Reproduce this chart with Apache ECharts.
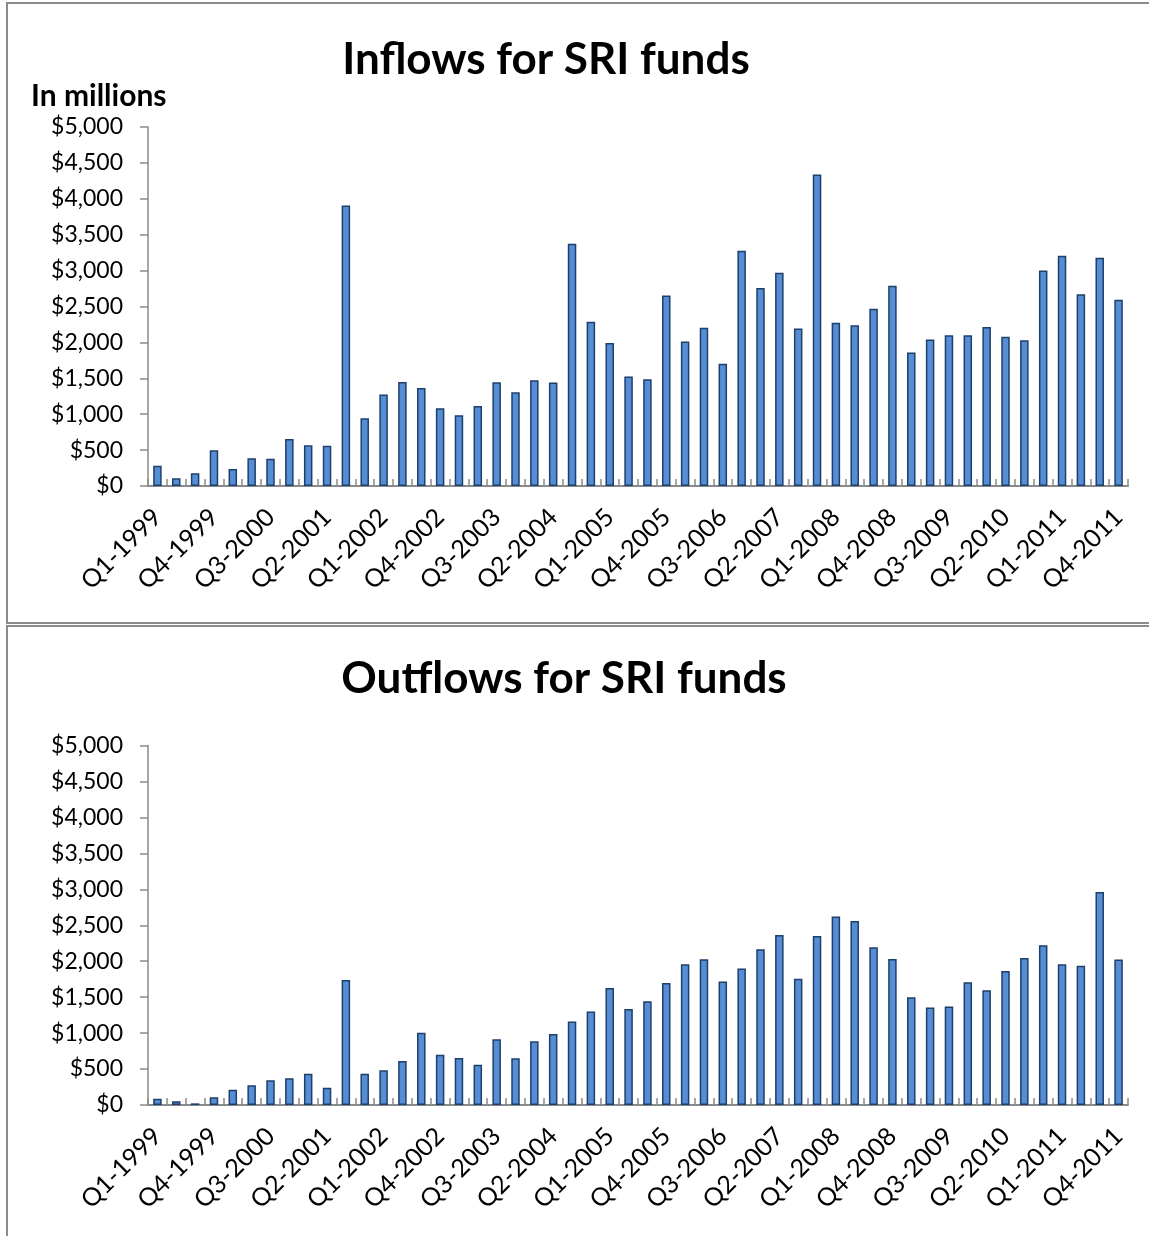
<!DOCTYPE html>
<html>
<head>
<meta charset="utf-8">
<script src="https://cdn.jsdelivr.net/npm/echarts@6/dist/echarts.min.js"></script>
<style>
html,body{margin:0;padding:0;background:#fff;}
#c{width:1149px;height:1236px;}
</style>
</head>
<body>
<div id="c"></div>
<script>
var categories = ["Q1-1999","Q2-1999","Q3-1999","Q4-1999","Q1-2000","Q2-2000","Q3-2000","Q4-2000",
"Q1-2001","Q2-2001","Q3-2001","Q4-2001","Q1-2002","Q2-2002","Q3-2002","Q4-2002",
"Q1-2003","Q2-2003","Q3-2003","Q4-2003","Q1-2004","Q2-2004","Q3-2004","Q4-2004",
"Q1-2005","Q2-2005","Q3-2005","Q4-2005","Q1-2006","Q2-2006","Q3-2006","Q4-2006",
"Q1-2007","Q2-2007","Q3-2007","Q4-2007","Q1-2008","Q2-2008","Q3-2008","Q4-2008",
"Q1-2009","Q2-2009","Q3-2009","Q4-2009","Q1-2010","Q2-2010","Q3-2010","Q4-2010",
"Q1-2011","Q2-2011","Q3-2011","Q4-2011"];

var inflows = [283,107,177,497,237,386,381,655,567,562,3908,943,1273,1450,1366,1083,985,1115,1445,1306,
1473,1441,3374,2286,1993,1524,1487,2653,2012,2203,1701,3276,2756,2969,2193,4340,2272,2240,2467,2788,
1859,2040,2100,2100,2216,2077,2031,3002,3206,2672,3178,2593];

var outflows = [88,51,23,107,213,274,343,371,436,241,1739,436,482,612,1006,700,654,561,914,649,
886,988,1160,1299,1628,1336,1443,1698,1958,2027,1716,1897,2166,2365,1757,2351,2620,2560,2194,2032,
1498,1355,1369,1707,1596,1865,2046,2222,1958,1935,2964,2022];

var titles = ["Inflows for SRI funds", "Outflows for SRI funds"];
var unitLabel = "In millions";
var yMin = 0, yMax = 5000, yStep = 500;

var FONT = "Lato";
var axisGray = "#8a8a8a";

function fmtMoney(v){
  return "$" + String(v).replace(/\B(?=(\d{3})+(?!\d))/g, ",");
}

function xAxis(gi){
  return {
    type: "category", gridIndex: gi, data: categories, boundaryGap: true,
    axisLine: {lineStyle: {color: axisGray, width: 2}},
    axisTick: {show: true, inside: true, length: 7, interval: 0, lineStyle: {color: axisGray, width: 1.5}},
    axisLabel: {interval: 2, rotate: 45, margin: 27, color: "#000", fontFamily: FONT, fontSize: 25}
  };
}
function yAxis(gi){
  return {
    type: "value", gridIndex: gi, min: yMin, max: yMax, interval: yStep,
    axisLine: {show: true, lineStyle: {color: axisGray, width: 1.5}},
    axisTick: {show: true, length: 8, lineStyle: {color: axisGray, width: 1.5}},
    splitLine: {show: false},
    axisLabel: {formatter: fmtMoney, margin: 25, color: "#000", fontFamily: FONT, fontSize: 23}
  };
}
function barSeries(gi, data){
  return {
    type: "bar", xAxisIndex: gi, yAxisIndex: gi, data: data, barWidth: 8.5,
    itemStyle: {color: "#558ED5", borderColor: "#1F3F6B", borderWidth: 1.5},
    emphasis: {disabled: true}
  };
}

var chart = echarts.init(document.getElementById("c"), null, {renderer: "canvas"});
chart.setOption({
  animation: false,
  backgroundColor: "#fff",
  grid: [
    {left: 148, right: 21, top: 127, height: 359},
    {left: 148, right: 21, top: 745.5, height: 359.5}
  ],
  xAxis: [xAxis(0), xAxis(1)],
  yAxis: [yAxis(0), yAxis(1)],
  series: [barSeries(0, inflows), barSeries(1, outflows)],
  graphic: [
    {type: "rect", shape: {x: 7, y: 3, width: 1160, height: 620}, style: {fill: "none", stroke: "#8c8c8c", lineWidth: 2}, silent: true},
    {type: "rect", shape: {x: 7, y: 626, width: 1160, height: 640}, style: {fill: "none", stroke: "#8c8c8c", lineWidth: 2}, silent: true},
    {type: "text", style: {x: 546, y: 60, text: titles[0], textAlign: "center", textVerticalAlign: "middle", fontFamily: FONT, fontWeight: "bold", fontSize: 44, fill: "#000"}},
    {type: "text", style: {x: 564, y: 679, text: titles[1], textAlign: "center", textVerticalAlign: "middle", fontFamily: FONT, fontWeight: "bold", fontSize: 44, fill: "#000"}},
    {type: "text", style: {x: 31, y: 96, text: unitLabel, textAlign: "left", textVerticalAlign: "middle", fontFamily: FONT, fontWeight: "bold", fontSize: 30, fill: "#000"}}
  ]
});
</script>
</body>
</html>
